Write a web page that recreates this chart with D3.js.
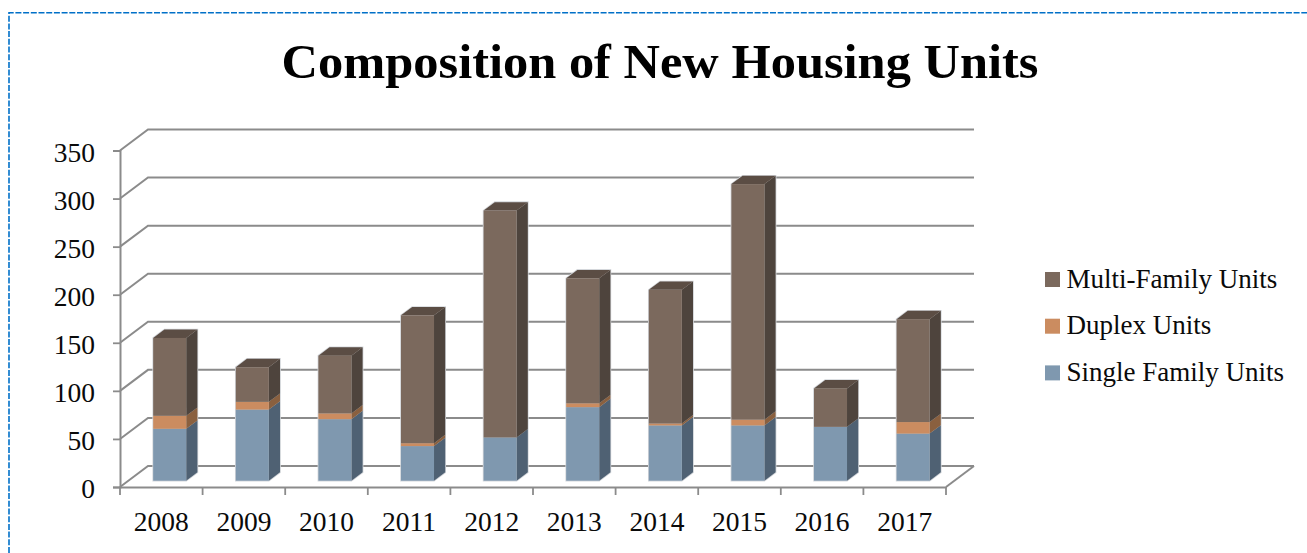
<!DOCTYPE html>
<html>
<head>
<meta charset="utf-8">
<title>Composition of New Housing Units</title>
<script src="https://cdnjs.cloudflare.com/ajax/libs/d3/7.8.5/d3.min.js"></script>
<style>
    html, body { margin: 0; padding: 0; background: #fff; overflow: hidden; }
    svg { display: block; }
    text { font-family: "Liberation Serif", serif; fill: #0a0a0a; }
</style>
</head>
<body>
<svg id="chart" width="1307" height="553"></svg>
<script>
const years = ["2008", "2009", "2010", "2011", "2012", "2013", "2014", "2015", "2016", "2017"];
const singleFamily = [54, 74, 64, 36, 45, 76.5, 57.5, 57.5, 56, 49];
const duplex = [13.5, 8, 6, 3, 0, 4, 2, 6, 0, 12];
const multiFamily = [81, 36, 60, 133, 236, 130, 139, 245, 40, 107];
const yTicks = [0, 50, 100, 150, 200, 250, 300, 350];
const seriesNames = ["Single Family Units", "Duplex Units", "Multi-Family Units"];

const svg = d3.select("#chart");

const plotLeft = 120, plotRight = 946, plotBottom = 487, plotTop = 150.5;
// how far the back wall sits behind the front of the floor
const depthX = 28, depthY = 21;

const colors = {
    "Single Family Units": { front: "#7f98af", side: "#4f6173", top: "#62778b" },
    "Duplex Units": { front: "#cb8c60", side: "#8a603f", top: "#a0704b" },
    "Multi-Family Units": { front: "#7b695d", side: "#4e443d", top: "#5b4d44" }
};

const x = d3.scaleBand().domain(years).range([plotLeft, plotRight]).paddingInner(0.6).paddingOuter(0.3);
const xTicks = d3.scaleBand().domain(years).range([plotLeft, plotRight]);
const y = d3.scaleLinear().domain([0, 350]).range([plotBottom, plotTop]);

// border, only top and left are visible in the picture
svg.append("path")
    .attr("d", "M9,553V12.7H1307")
    .attr("fill", "none")
    .attr("stroke", "#0070c8")
    .attr("stroke-width", 1.6)
    .attr("stroke-dasharray", "6,1.7");

svg.append("text")
    .attr("x", 660)
    .attr("y", 78)
    .attr("text-anchor", "middle")
    .attr("font-size", "49px")
    .attr("font-weight", "bold")
    .style("fill", "#000")
    .attr("textLength", 757)
    .attr("lengthAdjust", "spacingAndGlyphs")
    .text("Composition of New Housing Units");

// gridlines on the back wall and the side wall
const grid = svg.append("g")
    .attr("fill", "none")
    .attr("stroke", "#8b8b8b")
    .attr("stroke-width", 2);

grid.selectAll("path")
    .data(yTicks)
    .join("path")
    .attr("d", d => `M${plotLeft},${y(d)}L${plotLeft + depthX},${y(d) - depthY}H${plotRight + depthX}`);

// floor edge on the right
grid.append("path")
    .attr("d", `M${plotRight},${plotBottom}L${plotRight + depthX},${plotBottom - depthY}`);

// axes
const yAxis = d3.axisLeft(y).tickValues(yTicks).tickSize(7).tickPadding(18).tickFormat(d3.format("d"));
const yG = svg.append("g").attr("transform", `translate(${plotLeft},0)`).call(yAxis);
yG.select(".domain").attr("stroke", "#8b8b8b").attr("stroke-width", 2);
yG.selectAll(".tick line").attr("stroke", "#8b8b8b").attr("stroke-width", 1.8);
yG.selectAll(".tick text")
    .attr("font-family", null)
    .attr("font-size", "27.5px")
    .attr("dy", "0.39em");

const xAxis = d3.axisBottom(xTicks).tickSize(0).tickPadding(24);
const xG = svg.append("g").attr("transform", `translate(0,${plotBottom})`).call(xAxis);
xG.select(".domain").attr("stroke", "#8b8b8b").attr("stroke-width", 2);
xG.selectAll(".tick text")
    .attr("font-family", null)
    .attr("font-size", "27.5px");
// ticks sit between the categories, not under them
xG.selectAll(".edge")
    .data(years.concat("end"))
    .join("line")
    .attr("class", "edge")
    .attr("x1", (d, i) => plotLeft + i * xTicks.step())
    .attr("x2", (d, i) => plotLeft + i * xTicks.step())
    .attr("y1", 0)
    .attr("y2", 8)
    .attr("stroke", "#8b8b8b")
    .attr("stroke-width", 1.8);

// stacked bars
const rows = years.map((year, i) => ({
    year: year,
    "Single Family Units": singleFamily[i],
    "Duplex Units": duplex[i],
    "Multi-Family Units": multiFamily[i]
}));
const stacked = d3.stack().keys(seriesNames)(rows);

// bars stand 0.3 of the way into the floor and are 0.4 of it deep
const shiftX = depthX * 0.3, shiftY = depthY * 0.3;
const barX = depthX * 0.4, barY = depthY * 0.4;

const bars = svg.append("g").attr("class", "bars");

// pale outline round each whole bar, goes under the faces
bars.append("g")
    .selectAll("path")
    .data(stacked[stacked.length - 1])
    .join("path")
    .attr("d", d => {
        const x0 = x(d.data.year) + shiftX;
        const x1 = x0 + x.bandwidth();
        const yLow = y(0) - shiftY;
        const yHigh = y(d[1]) - shiftY;
        return `M${x0},${yLow}V${yHigh}L${x0 + barX},${yHigh - barY}H${x1 + barX}V${yLow - barY}L${x1},${yLow}Z`;
    })
    .attr("fill", "#ccc")
    .attr("stroke", "#d4d7db")
    .attr("stroke-width", 1.6);

stacked.forEach(layer => {
    const c = colors[layer.key];
    const g = bars.append("g").attr("class", "layer");
    layer.forEach(d => {
        if (d[1] - d[0] <= 0) return;
        const x0 = x(d.data.year) + shiftX;
        const x1 = x0 + x.bandwidth();
        const yLow = y(d[0]) - shiftY;
        const yHigh = y(d[1]) - shiftY;

        g.append("path")
            .attr("d", `M${x1},${yLow}L${x1 + barX},${yLow - barY}V${yHigh - barY}L${x1},${yHigh}Z`)
            .attr("fill", c.side);
        if (layer.key === "Multi-Family Units") {
            g.append("path")
                .attr("d", `M${x0},${yHigh}L${x0 + barX},${yHigh - barY}H${x1 + barX}L${x1},${yHigh}Z`)
                .attr("fill", c.top);
        }
        g.append("rect")
            .attr("x", x0)
            .attr("y", yHigh)
            .attr("width", x.bandwidth())
            .attr("height", yLow - yHigh)
            .attr("fill", c.front);
    });
});

// legend, drawn top to bottom in reverse stack order
const legend = svg.append("g")
    .selectAll("g")
    .data(seriesNames.slice().reverse())
    .join("g")
    .attr("transform", (d, i) => `translate(1045,${272 + i * 46.7})`);

legend.append("rect")
    .attr("width", 15)
    .attr("height", 15)
    .attr("fill", d => colors[d].front);

legend.append("text")
    .attr("x", 21.5)
    .attr("y", 15.5)
    .attr("font-size", "27px")
    .text(d => d);
</script>
</body>
</html>
